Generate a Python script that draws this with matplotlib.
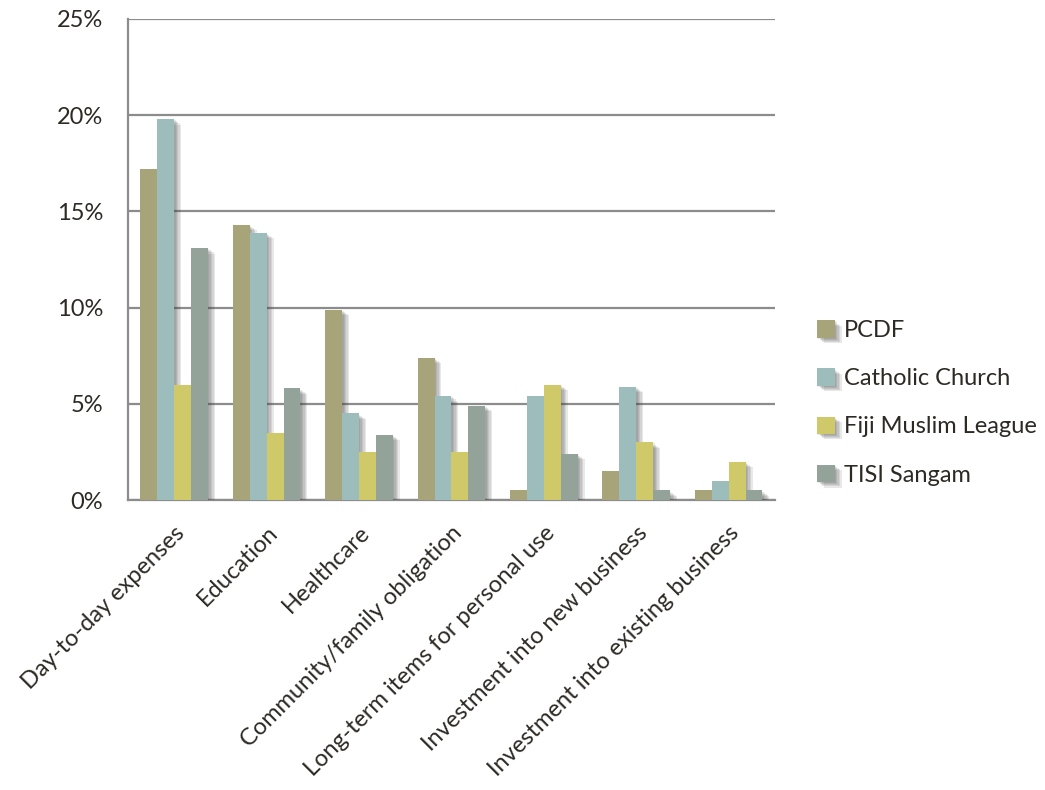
import numpy as np
import matplotlib.pyplot as plt
import matplotlib.patheffects as pe
from matplotlib.ticker import FuncFormatter

plt.rcParams['font.family'] = ['Lato', 'DejaVu Sans']

categories = ['Day-to-day expenses', 'Education', 'Healthcare',
              'Community/family obligation', 'Long-term items for personal use',
              'Investment into new business', 'Investment into existing business']
series = ['PCDF', 'Catholic Church', 'Fiji Muslim League', 'TISI Sangam']
pcdf = [17.2, 14.3, 9.9, 7.4, 0.5, 1.5, 0.5]
catholic = [19.8, 13.9, 4.5, 5.4, 5.4, 5.9, 1.0]
fiji_muslim = [6.0, 3.5, 2.5, 2.5, 6.0, 3.0, 2.0]
tisi = [13.1, 5.8, 3.4, 4.9, 2.4, 0.5, 0.5]
colors = ['#A8A47A', '#9DBDBC', '#D0C96A', '#93A39A']

values = [pcdf, catholic, fiji_muslim, tisi]
text_color = '#2d2a24'
grid_color = '#8c8c8c'

fig = plt.figure(figsize=(10.45, 7.9), dpi=100)
ax = fig.add_axes([0.1225, 0.367, 0.619, 0.609])

x = np.arange(len(categories))
width = 0.183
# soft drop shadow: a few faint offset copies stacked under each bar
shadow = [pe.SimplePatchShadow(offset=(d, -d * 0.8), shadow_rgbFace='#444444', alpha=0.12)
          for d in (1, 2, 3, 4, 5)] + [pe.Normal()]
for i, (name, vals) in enumerate(zip(series, values)):
    bars = ax.bar(x + (i - 1.5) * width, vals, width, color=colors[i], label=name, zorder=3)
    for b in bars:
        b.set_path_effects(shadow)

ax.set_xlim(-0.5, len(categories) - 0.5)
ax.set_ylim(0, 25)
ax.set_yticks(np.arange(0, 26, 5))
ax.yaxis.set_major_formatter(FuncFormatter(lambda v, p: f'{v:.0f}%'))
ax.yaxis.grid(True, color=grid_color, linewidth=1.6, zorder=1)
ax.set_axisbelow(True)

for s in ['top', 'right']:
    ax.spines[s].set_visible(False)
for s in ['left', 'bottom']:
    ax.spines[s].set_color(grid_color)
    ax.spines[s].set_linewidth(1.6)

ax.tick_params(axis='y', length=0, labelsize=17, colors=text_color, pad=18)
ax.tick_params(axis='x', length=0, labelsize=17, colors=text_color, pad=16)
ax.set_xticks(x)
ax.set_xticklabels(categories, rotation=45, ha='right', rotation_mode='anchor')

leg = ax.legend(loc='center left', bbox_to_anchor=(1.065, 0.202), frameon=False,
                fontsize=17, handlelength=0.75, handleheight=0.75, handletextpad=0.4,
                labelspacing=1.15, borderaxespad=0, borderpad=0, labelcolor=text_color)

plt.savefig('out.png', dpi=100)
